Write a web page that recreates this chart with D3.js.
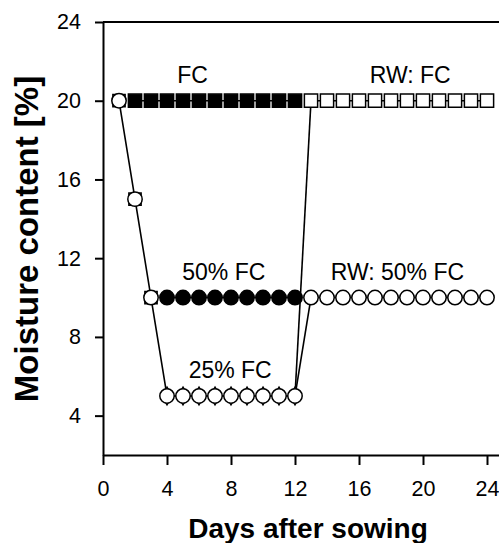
<!DOCTYPE html>
<html>
<head>
<meta charset="utf-8">
<script src="https://cdn.jsdelivr.net/npm/d3@7"></script>
<style>
  body { margin: 0; background: #fff; }
  text { font-family: "Liberation Sans", Arial, sans-serif; }
</style>
</head>
<body>
<script>
width = 499
height = 543

// data
xTicks = [0, 4, 8, 12, 16, 20, 24]
yTicks = [4, 8, 12, 16, 20, 24]

dryDays = [1, 2, 3, 4]
dryValues = [20, 15, 10, 5]

fcDays = [2, 3, 4, 5, 6, 7, 8, 9, 10, 11, 12]
fcValues = [20, 20, 20, 20, 20, 20, 20, 20, 20, 20, 20]

rwFcDays = [13, 14, 15, 16, 17, 18, 19, 20, 21, 22, 23, 24]
rwFcValues = [20, 20, 20, 20, 20, 20, 20, 20, 20, 20, 20, 20]

halfDays = [4, 5, 6, 7, 8, 9, 10, 11, 12]
halfValues = [10, 10, 10, 10, 10, 10, 10, 10, 10]

rwHalfDays = [13, 14, 15, 16, 17, 18, 19, 20, 21, 22, 23, 24]
rwHalfValues = [10, 10, 10, 10, 10, 10, 10, 10, 10, 10, 10, 10]

quarterDays = [4, 5, 6, 7, 8, 9, 10, 11, 12]
quarterValues = [5, 5, 5, 5, 5, 5, 5, 5, 5]

// re-watering jumps from the 25% FC pots on day 12
rwJumps = [
  [[12, 5], [13, 20]],
  [[12, 5], [13, 10]]
]

labels = [
  {text: "FC", day: 5.6, value: 20.9},
  {text: "RW: FC", day: 19.2, value: 20.9},
  {text: "50% FC", day: 7.55, value: 10.9},
  {text: "RW: 50% FC", day: 18.4, value: 10.9},
  {text: "25% FC", day: 7.95, value: 5.9}
]

zip = (xs, ys) => xs.map((d, i) => [d, ys[i]])

x = d3.scaleLinear().domain([0, 25]).range([103, 503])
y = d3.scaleLinear().domain([2, 24]).range([455, 22])

const svg = d3.select("body").append("svg")
  .attr("width", width)
  .attr("height", height)

// top frame line
svg.append("line")
  .attr("x1", x(0)).attr("x2", width)
  .attr("y1", y(24)).attr("y2", y(24))
  .attr("stroke", "#000").attr("stroke-width", 2)

xAxis = g => g
  .attr("transform", `translate(0,${y(2)})`)
  .call(d3.axisBottom(x).tickValues(xTicks).tickSize(10).tickSizeOuter(0).tickPadding(16))
  .call(g => g.selectAll("line").attr("stroke-width", 2))
  .call(g => g.select(".domain").attr("stroke-width", 2))
  .call(g => g.selectAll("text").attr("font-size", 21.5).attr("font-family", "Liberation Sans, Arial, sans-serif"))

yAxis = g => g
  .attr("transform", `translate(${x(0)},0)`)
  .call(d3.axisLeft(y).tickValues(yTicks).tickSize(8).tickSizeOuter(0).tickPadding(14))
  .call(g => g.selectAll("line").attr("stroke-width", 2))
  .call(g => g.select(".domain").attr("stroke-width", 2))
  .call(g => g.selectAll("text").attr("font-size", 21.5).attr("font-family", "Liberation Sans, Arial, sans-serif"))

svg.append("g").call(xAxis)
svg.append("g").call(yAxis)

line = d3.line().x(d => x(d[0])).y(d => y(d[1]))

const lines = svg.append("g")
  .attr("fill", "none")
  .attr("stroke", "#000")
  .attr("stroke-width", 1.6)

lines.append("path").attr("d", line(zip(dryDays, dryValues)))
lines.append("path").attr("d", line(zip(fcDays, fcValues)))
lines.append("path").attr("d", line(zip(rwFcDays, rwFcValues)))
lines.append("path").attr("d", line(zip(halfDays, halfValues)))
lines.append("path").attr("d", line(zip(rwHalfDays, rwHalfValues)))
lines.append("path").attr("d", line(zip(quarterDays, quarterValues)))
rwJumps.forEach(seg => lines.append("path").attr("d", line(seg)))

square = d3.symbol().type(d3.symbolSquare).size(175)
squareSmall = d3.symbol().type(d3.symbolSquare).size(150)
diamond = d3.symbol().type(d3.symbolDiamond).size(95)

function squares(days, values, fill) {
  svg.append("g").selectAll("path")
    .data(zip(days, values))
    .join("path")
      .attr("transform", d => `translate(${x(d[0])},${y(d[1])})`)
      .attr("d", square)
      .attr("fill", fill)
      .attr("stroke", "#000")
      .attr("stroke-width", 1.5)
}

function circles(days, values, fill) {
  svg.append("g").selectAll("circle")
    .data(zip(days, values))
    .join("circle")
      .attr("cx", d => x(d[0]))
      .attr("cy", d => y(d[1]))
      .attr("r", 7.2)
      .attr("fill", fill)
      .attr("stroke", "#000")
      .attr("stroke-width", 1.5)
}

squares(fcDays, fcValues, "#000")
squares(rwFcDays, rwFcValues, "#fff")

// overlapping open markers along the dry-down
svg.append("g").selectAll("path")
  .data(zip(dryDays.slice(0, 3), dryValues.slice(0, 3)))
  .join("path")
    .attr("transform", d => `translate(${x(d[0])},${y(d[1])})`)
    .attr("d", squareSmall)
    .attr("fill", "#fff")
    .attr("stroke", "#000")
    .attr("stroke-width", 1.5)
svg.append("g").selectAll("path")
  .data(zip(quarterDays, quarterValues))
  .join("path")
    .attr("transform", d => `translate(${x(d[0])},${y(d[1])})`)
    .attr("d", diamond)
    .attr("fill", "#fff")
    .attr("stroke", "#000")
    .attr("stroke-width", 1.2)

circles(dryDays.slice(0, 3), dryValues.slice(0, 3), "#fff")
circles(halfDays, halfValues, "#000")
circles(rwHalfDays, rwHalfValues, "#fff")
circles(quarterDays, quarterValues, "#fff")

svg.append("g").selectAll("text")
  .data(labels)
  .join("text")
    .attr("x", d => x(d.day))
    .attr("y", d => y(d.value))
    .attr("text-anchor", "middle")
    .attr("font-size", 23)
    .text(d => d.text)

svg.append("text")
  .attr("x", 308)
  .attr("y", 538)
  .attr("text-anchor", "middle")
  .attr("font-size", 28)
  .attr("font-weight", "bold")
  .text("Days after sowing")

svg.append("text")
  .attr("transform", "translate(38,239) rotate(-90)")
  .attr("text-anchor", "middle")
  .attr("font-size", 33)
  .attr("font-weight", "bold")
  .text("Moisture content [%]")
</script>
</body>
</html>
